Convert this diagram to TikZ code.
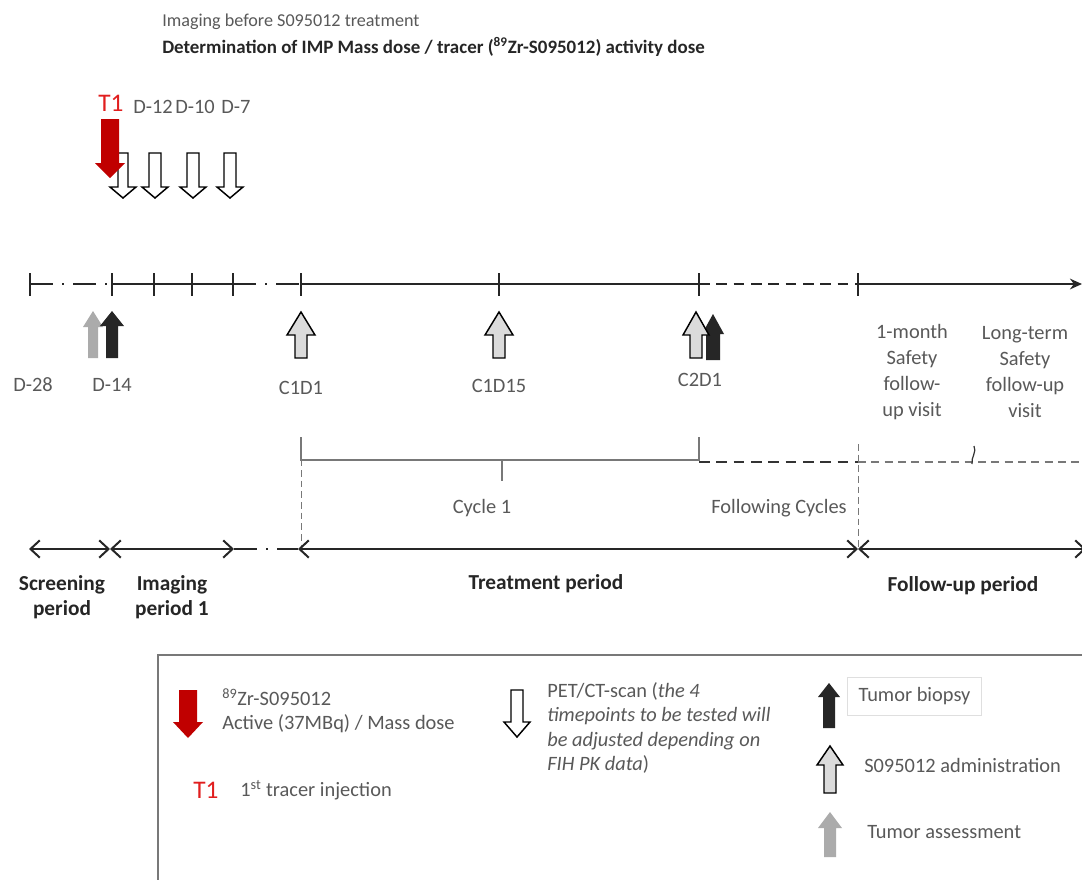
\documentclass[tikz,border=0pt]{standalone}
\usepackage{fontspec}
\setmainfont{Carlito}
\usetikzlibrary{arrows.meta}
\definecolor{txt}{RGB}{89,89,89}
\definecolor{bld}{RGB}{38,38,38}
\definecolor{dred}{RGB}{192,0,0}
\definecolor{tred}{RGB}{225,30,30}
\definecolor{boxc}{RGB}{120,120,120}
% #1 style, #2 cx, #3 base y, #4 head y, #5 tip y, #6 half shaft, #7 half head
\newcommand{\blockarr}[7]{%
  \path[#1] ({#2-#6},#3) -- ({#2-#6},#4) -- ({#2-#7},#4) -- (#2,#5) -- ({#2+#7},#4) -- ({#2+#6},#4) -- ({#2+#6},#3) -- cycle;}
\tikzset{
  tl/.style={line width=1.6pt, black!85},
  tickmark/.style={line width=1.6pt, black!85},
  dashdot/.style={dash pattern=on 17pt off 7pt on 1.5pt off 7pt},
  lbl/.style={text=txt, font=\fontsize{15.3}{19.5}\selectfont, inner sep=0pt},
  bold/.style={text=bld, font=\fontsize{16}{18.75}\selectfont\bfseries, align=center, inner sep=0pt},
  redlbl/.style={text=tred, font=\fontsize{19}{22}\selectfont, inner sep=0pt},
  whitearr/.style={draw=black, line width=1.1pt, fill=white, line join=miter},
  outarr/.style={draw=black, line width=1.1pt, fill=gray!28, line join=miter},
  blackarr/.style={fill=black!85},
  greyarr/.style={fill=black!33},
  redarr/.style={fill=dred},
  per/.style={line width=1.5pt, black!85},
  brk/.style={line width=0.9pt, boxc},
  barbs/.style={{Straight Barb[length=7pt,width=13pt]}-{Straight Barb[length=7pt,width=13pt]}},
}
\begin{document}
\begin{tikzpicture}[x=0.75pt,y=-0.75pt]
\useasboundingbox (0,0) rectangle (1082,879);
\clip (0,0) rectangle (1082,879);
\fill[white] (0,0) rectangle (1082,879);

% ---------- header ----------
\node[anchor=west, text=txt, font=\fontsize{13.6}{15}\selectfont, inner sep=0pt] (hdr1) at (162,22) {Imaging before S095012 treatment};
\node[anchor=west, text=bld, font=\fontsize{14.2}{16}\selectfont\bfseries, inner sep=0pt] (hdr2) at (162,47) {Determination of IMP Mass dose / tracer (\textsuperscript{89}Zr-S095012) activity dose};

\node[redlbl] (T1top) at (111,103) {T1};
\node[lbl] (D12) at (153,107) {D-12};
\node[lbl] (D10) at (195,107) {D-10};
\node[lbl] (D7) at (236,107) {D-7};

% down arrows (PET/CT scans) and red tracer arrow
\blockarr{whitearr}{123}{153}{187}{198}{5}{13}
\blockarr{whitearr}{155}{153}{187}{198}{6}{13}
\blockarr{whitearr}{193}{153}{187}{198}{6}{13}
\blockarr{whitearr}{230}{153}{187}{198}{6}{13}
\blockarr{redarr}{110}{119}{163}{178}{9}{15}

% ---------- main timeline ----------
\coordinate (d28) at (30,284);
\coordinate (d14) at (112,284);
\coordinate (t2) at (154,284);
\coordinate (t3) at (192,284);
\coordinate (d7) at (233,284);
\coordinate (c1d1) at (301,284);
\coordinate (c1d15) at (499,284);
\coordinate (c2d1) at (699,284);
\coordinate (fu) at (858,284);
\coordinate (tend) at (1082,284);

\draw[tl, dashdot] (d28) -- (d14);
\draw[tl] (d14) -- (d7);
\draw[tl, dashdot] (d7) -- (c1d1);
\draw[tl] (c1d1) -- (c2d1);
\draw[tl, dash pattern=on 8pt off 5pt] (c2d1) -- (fu);
\draw[tl, -{Stealth[length=9pt,width=8pt]}] (fu) -- (tend);
\foreach \x in {30,112,154,192,233,301,499,699,858}
  \draw[tickmark] (\x,273) -- (\x,296);

% up arrows under the timeline
\blockarr{greyarr}{93}{358}{327}{311}{5}{10}
\blockarr{blackarr}{112}{358}{326}{311}{6}{12}
\blockarr{outarr}{301}{358}{335}{312}{6}{14}
\blockarr{outarr}{499}{358}{335}{312}{6}{14}
\blockarr{blackarr}{713}{360}{334}{314}{7}{11}
\blockarr{outarr}{696}{358}{335}{312}{6}{13}

% timepoint labels
\node[lbl] (lD28) at (33,385) {D-28};
\node[lbl] (lD14) at (112,385) {D-14};
\node[lbl] (lC1D1) at (301,388) {C1D1};
\node[lbl] (lC1D15) at (499,386) {C1D15};
\node[lbl] (lC2D1) at (700,380) {C2D1};
\node[lbl, align=center] (lfu1) at (912,372) {1-month\\Safety\\follow-\\up visit};
\node[lbl, align=center] (lfu2) at (1025,372) {Long-term\\Safety\\follow-up\\visit};

% ---------- cycle bracket ----------
\coordinate (b1) at (301,460);
\coordinate (b2) at (699,460);
\coordinate (b3) at (858,462);
\coordinate (b4) at (1082,462);
\draw[brk] (301,437) -- (b1) -- (b2) -- (699,437);
\draw[brk] (502,460) -- (502,481);
\draw[line width=1.4pt, black!80, dash pattern=on 8pt off 5pt] (699,462) -- (b3);
\draw[line width=0.9pt, boxc, dash pattern=on 6pt off 4pt] (b3) -- (b4);
\draw[line width=0.9pt, black!80] (974,446) .. controls (977,452) and (971,457) .. (972,464);
\draw[line width=0.7pt, boxc, dash pattern=on 5pt off 3pt] (301,438) -- (301,548);
\draw[line width=0.7pt, boxc, dash pattern=on 5pt off 3pt] (858,444) -- (858,548);
\node[lbl] (lcyc1) at (482,508) {Cycle 1};
\node[lbl] (lfol) at (779,508) {Following Cycles};

% ---------- period arrows ----------
\coordinate (p0) at (29,549);
\coordinate (p1) at (110,549);
\coordinate (p2) at (234,549);
\coordinate (p3) at (298,549);
\coordinate (p4) at (858,549);
\coordinate (p5) at (1086,549);
\draw[per, barbs] (p0) -- (p1);
\draw[per, barbs] (p1) -- (p2);
\draw[per, dashdot] (p2) -- (p3);
\draw[per, barbs] (p3) -- (p4);
\draw[per, barbs] (p4) -- (p5);

\node[bold] (lscr) at (62,597) {Screening\\period};
\node[bold] (limg) at (172,597) {Imaging\\period 1};
\node[bold] (ltrt) at (546,584) {Treatment period};
\node[bold] (lfup) at (963,586) {Follow-up period};

% ---------- legend ----------
\draw[line width=1.2pt, boxc] (158,655) rectangle (1110,900);

\blockarr{redarr}{188}{690}{722}{738}{9}{15}
\node[lbl, anchor=north west, align=left, font=\fontsize{15.3}{18.4}\selectfont] (legred) at (222,688) {\textsuperscript{89}Zr-S095012\\Active (37MBq) / Mass dose};
\node[redlbl] (legT1) at (206,790) {T1};
\node[lbl, anchor=west] (legT1t) at (240,790) {1\textsuperscript{st} tracer injection};

\blockarr{whitearr}{517}{690}{722}{737}{6}{13}
\node[lbl, anchor=north west, align=left, font=\fontsize{15.3}{18.4}\selectfont] (legpet) at (547,682) {PET/CT-scan (\textit{the 4}\\\textit{timepoints to be tested will}\\\textit{be adjusted depending on}\\\textit{FIH PK data})};

\blockarr{blackarr}{829}{728}{697}{683}{6}{11}
\node[lbl, draw=gray!25, line width=0.6pt, minimum width=101pt, minimum height=29pt] (legbio) at (914.5,696.5) {Tumor biopsy};
\blockarr{outarr}{830}{793}{765}{746}{6}{13}
\node[lbl, anchor=west] (legadm) at (864,765) {S095012 administration};
\blockarr{greyarr}{830}{857}{828}{812}{6}{12}
\node[lbl, anchor=west] (legass) at (867,832) {Tumor assessment};
\end{tikzpicture}
\end{document}
